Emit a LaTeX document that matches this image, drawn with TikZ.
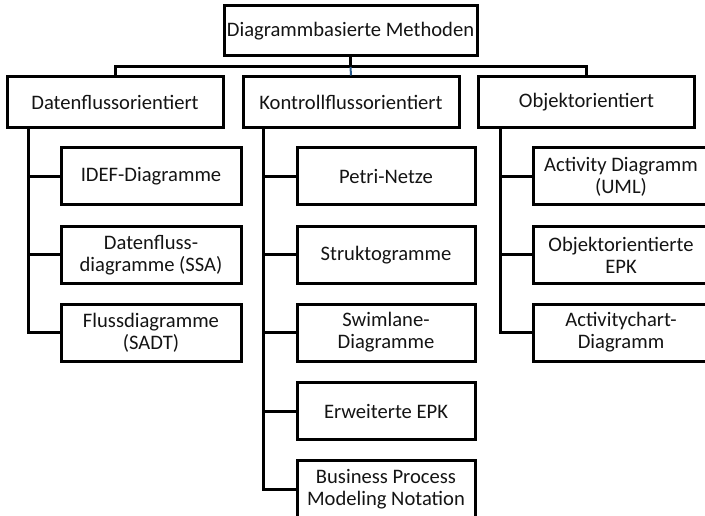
\documentclass[tikz,border=0pt]{standalone}
\usepackage{fontspec}
\setmainfont{Carlito}
\begin{document}
\begin{tikzpicture}[x=1pt,y=-1pt,
  box/.style={draw=black,line width=3pt,rectangle,align=center,inner sep=0pt,
    font=\fontsize{20.6}{22}\selectfont,text=black!92},
  lvl/.style={box,minimum width=216pt,minimum height=51pt},
  leaf/.style={box,minimum height=57pt},
  link/.style={line width=3pt,line cap=rect,line join=miter}]
\useasboundingbox (0,0) rectangle (705,516);
\clip (0,0) rectangle (705,516);

% root and first level
\node[box,minimum width=253pt,minimum height=50pt] (root) at (350.5,31) {Diagrammbasierte Methoden};
\node[lvl] (dat) at (115,102.5) {Datenflussorientiert};
\node[lvl] (kon) at (351,102.5) {Kontrollflussorientiert};
\node[lvl] (obj) at (586.5,102.5) {Objektorientiert};

% data-flow methods
\node[leaf,minimum width=180pt] (d1) at (151,176.5) {IDEF-Diagramme};
\node[leaf,minimum width=180pt] (d2) at (151,255) {Datenfluss-\\diagramme (SSA)};
\node[leaf,minimum width=180pt] (d3) at (151,332.5) {Flussdiagramme\\(SADT)};

% control-flow methods
\node[leaf,minimum width=178pt] (k1) at (386,176.5) {Petri-Netze};
\node[leaf,minimum width=178pt] (k2) at (386,255) {Struktogramme};
\node[leaf,minimum width=178pt] (k3) at (386,332.5) {Swimlane-\\Diagramme};
\node[leaf,minimum width=178pt] (k4) at (386,411) {Erweiterte EPK};
\node[leaf,minimum width=178pt] (k5) at (386,489) {Business Process\\Modeling Notation};

% object-oriented methods
\node[leaf,minimum width=176pt] (o1) at (621,176.5) {Activity Diagramm\\(UML)};
\node[leaf,minimum width=176pt] (o2) at (621,255) {Objektorientierte\\EPK};
\node[leaf,minimum width=176pt] (o3) at (621,332.5) {Activitychart-\\Diagramm};

% root to first level
\coordinate (bar) at (350.5,67);
\draw[link] (root.south) -- (bar);
\draw[link] (dat.north) |- (bar);
\draw[link] (obj.north) |- (bar);
\draw[line width=2pt,draw={rgb,255:red,40;green,90;blue,140}] (bar) -- (kon.north);

% first level to leaves
\coordinate (dx) at ([xshift=23pt]dat.south west);
\coordinate (kx) at ([xshift=22pt]kon.south west);
\coordinate (ox) at ([xshift=23pt]obj.south west);
\foreach \n in {d1,d2,d3} \draw[link] (dx) |- (\n.west);
\foreach \n in {k1,k2,k3,k4,k5} \draw[link] (kx) |- (\n.west);
\foreach \n in {o1,o2,o3} \draw[link] (ox) |- (\n.west);
\end{tikzpicture}
\end{document}
